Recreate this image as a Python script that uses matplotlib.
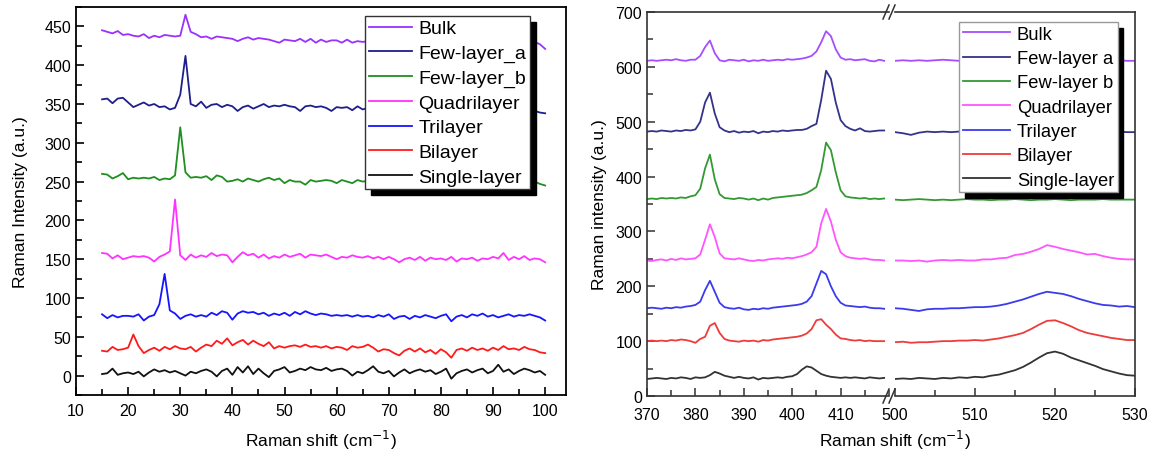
import numpy as np
import matplotlib
matplotlib.use("Agg")
import matplotlib.pyplot as plt
from matplotlib.ticker import MultipleLocator

plt.rcParams['font.family'] = ['Liberation Sans', 'DejaVu Sans']

# ---------------- Left panel data (low-frequency) ----------------
x_left = np.arange(15, 101)  # Raman shift, cm^-1

bulk_l = [445, 443, 441, 444, 439, 440, 438, 437, 440, 435, 438, 436, 439, 438, 437, 438, 465, 443, 440, 436,
          437, 434, 437, 436, 435, 434, 431, 434, 436, 433, 435, 434, 433, 431, 429, 433, 432, 431, 434, 430,
          434, 429, 433, 430, 432, 432, 429, 433, 429, 431, 430, 431, 430, 432, 429, 431, 428, 430, 429, 432,
          428, 430, 431, 428, 430, 429, 431, 427, 430, 429, 428, 430, 429, 428, 430, 429, 428, 430, 429, 431,
          428, 430, 432, 430, 427, 421]
fewa_l = [356, 357, 351, 357, 358, 352, 346, 349, 352, 348, 350, 346, 347, 343, 345, 362, 412, 350, 347, 353,
          345, 349, 350, 346, 349, 347, 341, 346, 348, 344, 347, 350, 346, 348, 347, 349, 347, 346, 341, 347,
          348, 346, 347, 345, 341, 346, 345, 346, 342, 347, 343, 345, 344, 339, 344, 345, 343, 345, 341, 344,
          343, 340, 344, 342, 343, 341, 344, 342, 343, 341, 343, 342, 340, 343, 341, 342, 340, 343, 341, 342,
          340, 341, 342, 341, 339, 338]
fewb_l = [260, 259, 254, 257, 261, 253, 255, 254, 255, 254, 256, 252, 254, 253, 258, 320, 262, 255, 256, 255,
          257, 252, 258, 256, 250, 251, 253, 250, 254, 252, 250, 253, 255, 252, 254, 248, 252, 250, 250, 246,
          252, 250, 251, 252, 251, 248, 252, 250, 248, 252, 250, 251, 247, 250, 249, 250, 248, 251, 247, 250,
          248, 250, 249, 251, 248, 249, 247, 251, 248, 249, 250, 247, 249, 248, 250, 247, 249, 248, 250, 247,
          249, 248, 246, 250, 247, 245]
quad_l = [158, 157, 151, 155, 150, 152, 154, 153, 154, 152, 147, 153, 156, 160, 227, 155, 149, 156, 152, 155,
          153, 158, 154, 156, 155, 146, 153, 159, 155, 157, 152, 156, 151, 154, 152, 156, 153, 155, 157, 152,
          156, 155, 154, 156, 153, 150, 153, 152, 155, 153, 152, 154, 151, 153, 150, 153, 150, 146, 150, 152,
          149, 153, 148, 152, 150, 151, 149, 153, 147, 151, 150, 152, 148, 151, 150, 153, 151, 158, 149, 153,
          150, 154, 149, 151, 150, 146]
tri_l = [79, 74, 78, 75, 77, 77, 76, 79, 71, 76, 78, 92, 131, 84, 80, 73, 77, 79, 76, 78,
         76, 81, 78, 83, 81, 72, 80, 83, 81, 82, 79, 81, 77, 80, 78, 81, 77, 82, 79, 83,
         80, 78, 80, 79, 77, 78, 77, 78, 76, 78, 76, 77, 75, 78, 76, 79, 73, 76, 77, 73,
         77, 75, 78, 76, 74, 77, 79, 70, 76, 78, 75, 79, 77, 80, 76, 78, 75, 77, 79, 76,
         78, 77, 79, 77, 75, 71]
bi_l = [32, 31, 37, 33, 34, 36, 53, 38, 29, 33, 36, 32, 37, 34, 38, 35, 34, 37, 31, 36,
        40, 38, 45, 41, 48, 39, 43, 46, 40, 45, 41, 38, 43, 35, 38, 36, 38, 39, 37, 40,
        37, 38, 36, 38, 35, 37, 36, 33, 38, 36, 37, 40, 36, 31, 34, 33, 29, 26, 32, 35,
        31, 35, 30, 33, 28, 34, 30, 23, 33, 35, 32, 36, 33, 35, 32, 36, 33, 38, 34, 35,
        33, 37, 34, 33, 30, 29]
single_l = [2, 3, 9, 1, 3, 4, 2, 5, -1, 4, 8, 5, 7, 4, 6, 3, 0, 5, 3, 6,
            8, 5, -1, 6, 9, 1, 11, 4, 12, 2, 9, 3, -2, 6, 8, 11, 4, 6, 9, 7,
            11, 8, 7, 10, 6, 8, 9, 6, 0, 5, 3, 7, 12, 5, 3, 6, -1, 4, 8, 3,
            6, 8, 5, 7, 2, 5, 9, -4, 3, 6, 8, 4, 7, 9, 3, 6, 14, 5, 8, 2,
            6, 9, 7, 4, 6, 1]

# ---------------- Right panel data (high-frequency, broken axis) ----------------
x_r1 = np.arange(370, 420)   # 370..419
x_r2 = np.arange(500, 531)   # 500..530

bulk_r1 = [611, 612, 611, 612, 613, 612, 614, 612, 611, 613, 613, 620, 636, 648, 625, 612, 610, 613, 612, 611,
           613, 610, 612, 611, 613, 611, 612, 613, 612, 614, 613, 614, 615, 617, 620, 628, 645, 665, 656, 632,
           617, 613, 614, 612, 613, 614, 611, 610, 613, 611]
fewa_r1 = [482, 483, 482, 484, 483, 482, 484, 483, 485, 484, 486, 500, 535, 553, 515, 490, 484, 481, 483, 480,
           482, 481, 483, 479, 482, 481, 483, 482, 484, 483, 484, 485, 485, 487, 492, 496, 540, 593, 578, 535,
           503, 492, 487, 484, 488, 483, 482, 483, 484, 484]
fewb_r1 = [359, 360, 359, 361, 360, 361, 360, 362, 361, 364, 366, 378, 415, 440, 395, 368, 361, 360, 359, 361,
           360, 358, 360, 357, 360, 358, 361, 362, 363, 364, 365, 366, 367, 370, 375, 381, 412, 462, 448, 408,
           375, 364, 362, 361, 360, 361, 359, 360, 359, 360]
quad_r1 = [247, 246, 248, 249, 247, 250, 248, 251, 249, 250, 251, 258, 285, 313, 290, 260, 251, 250, 249, 251,
           249, 247, 246, 248, 247, 249, 250, 251, 250, 252, 251, 253, 255, 258, 262, 272, 315, 341, 318, 285,
           262, 255, 252, 251, 250, 251, 249, 248, 248, 247]
tri_r1 = [160, 161, 160, 159, 161, 160, 162, 161, 163, 164, 166, 172, 193, 210, 190, 170, 162, 160, 159, 161,
          158, 157, 159, 158, 160, 159, 161, 162, 163, 164, 165, 166, 168, 172, 182, 205, 228, 222, 200, 182,
          170, 165, 164, 163, 162, 163, 161, 160, 160, 159]
bi_r1 = [100, 101, 100, 101, 100, 102, 101, 103, 102, 100, 97, 104, 108, 128, 133, 115, 104, 101, 100, 99,
         101, 100, 101, 99, 102, 101, 103, 104, 105, 106, 107, 108, 110, 114, 122, 138, 140, 130, 122, 112,
         105, 104, 102, 101, 102, 100, 101, 100, 100, 100]
single_r1 = [31, 32, 33, 32, 31, 33, 32, 34, 33, 31, 34, 33, 34, 38, 44, 41, 37, 35, 33, 35,
             33, 32, 34, 30, 33, 32, 33, 34, 33, 35, 36, 40, 48, 54, 52, 46, 40, 37, 35, 34,
             33, 34, 33, 34, 33, 32, 34, 33, 32, 33]

bulk_r2 = [611, 612, 611, 612, 611, 612, 613, 612, 611, 612, 613, 612, 611, 612, 612, 611, 612, 613, 612, 611,
           612, 611, 612, 613, 612, 611, 612, 611, 612, 611, 611]
fewa_r2 = [481, 479, 476, 480, 482, 481, 482, 481, 482, 483, 482, 481, 482, 481, 482, 482, 481, 482, 481, 482,
           482, 481, 482, 482, 481, 482, 481, 482, 482, 481, 481]
fewb_r2 = [358, 357, 358, 359, 358, 357, 358, 357, 358, 359, 358, 358, 357, 358, 358, 359, 358, 357, 358, 358,
           359, 358, 357, 358, 358, 358, 359, 358, 358, 358, 358]
quad_r2 = [247, 247, 246, 247, 245, 247, 248, 247, 248, 247, 247, 249, 249, 251, 252, 257, 259, 263, 268, 275,
           272, 268, 265, 262, 258, 259, 255, 252, 250, 249, 249]
tri_r2 = [160, 159, 157, 155, 158, 159, 159, 160, 160, 161, 162, 162, 163, 165, 168, 172, 176, 181, 186, 190,
          188, 186, 182, 177, 173, 169, 166, 165, 163, 164, 162]
bi_r2 = [98, 99, 97, 98, 98, 99, 100, 100, 101, 101, 102, 101, 103, 105, 108, 111, 115, 122, 130, 137,
         138, 133, 127, 120, 115, 112, 109, 106, 104, 102, 102]
single_r2 = [31, 32, 31, 33, 32, 31, 33, 32, 34, 33, 35, 34, 37, 39, 43, 47, 53, 61, 70, 78,
             81, 77, 70, 65, 60, 55, 49, 45, 41, 38, 37]

labels_left = ["Bulk", "Few-layer_a", "Few-layer_b", "Quadrilayer", "Trilayer", "Bilayer", "Single-layer"]
labels_right = ["Bulk", "Few-layer a", "Few-layer b", "Quadrilayer", "Trilayer", "Bilayer", "Single-layer"]
colors_left = ["#9b30ff", "#1e1e8c", "#1f8f1f", "#ff33ff", "#1515ff", "#ff1a1a", "#111111"]
colors_right = ["#a64dff", "#33338a", "#339933", "#ff55ff", "#3b3bee", "#ee3b3b", "#333333"]

left_series = [bulk_l, fewa_l, fewb_l, quad_l, tri_l, bi_l, single_l]
right1_series = [bulk_r1, fewa_r1, fewb_r1, quad_r1, tri_r1, bi_r1, single_r1]
right2_series = [bulk_r2, fewa_r2, fewb_r2, quad_r2, tri_r2, bi_r2, single_r2]

W, H = 1158, 460
fig = plt.figure(figsize=(W / 100, H / 100), dpi=100)


def fx(px):
    return px / W


def fy(py):
    return 1 - py / H


tick_fs = 11.5
label_fs = 12.5

# ---------------- Left panel ----------------
axL = fig.add_axes([fx(76), fy(396), fx(566 - 76), fy(8) - fy(396)])
for ys, c, lab in zip(left_series, colors_left, labels_left):
    axL.plot(x_left, ys, color=c, lw=1.3, label=lab)
axL.set_xlim(10, 104)
axL.set_ylim(-25, 475)
axL.xaxis.set_minor_locator(MultipleLocator(5))
axL.yaxis.set_major_locator(MultipleLocator(50))
axL.yaxis.set_minor_locator(MultipleLocator(25))
axL.set_xticks(np.arange(10, 101, 10))
axL.tick_params(which='both', direction='in', top=False, right=False, labelsize=tick_fs, width=1.2)
axL.tick_params(which='major', length=6)
axL.tick_params(which='minor', length=4)
axL.tick_params(axis='x', pad=6)
for s in axL.spines.values():
    s.set_linewidth(1.3)
axL.set_xlabel("Raman shift (cm$^{-1}$)", fontsize=label_fs, labelpad=7)
axL.set_ylabel("Raman Intensity (a.u.)", fontsize=label_fs, labelpad=12)
legL = axL.legend(loc='upper left', bbox_to_anchor=(fx(365), fy(17)), bbox_transform=fig.transFigure,
                  fontsize=14, frameon=True, fancybox=False, framealpha=1, edgecolor='#333333',
                  handlelength=2.2, handletextpad=0.35, labelspacing=0.36, borderpad=0.2, borderaxespad=0,
                  shadow={'ox': 4, 'oy': -4, 'facecolor': 'black', 'edgecolor': 'black', 'alpha': 1})
legL.get_frame().set_linewidth(1.0)
legL.set_zorder(10)

# ---------------- Right panel (broken axis) ----------------
bot, top = fy(397), fy(13)
ax1 = fig.add_axes([fx(647), bot, fx(889 - 647), top - bot])
ax2 = fig.add_axes([fx(895), bot, fx(1135 - 895), top - bot])
for ys, c, lab in zip(right1_series, colors_right, labels_right):
    ax1.plot(x_r1, ys, color=c, lw=1.3, label=lab)
for ys, c, lab in zip(right2_series, colors_right, labels_right):
    ax2.plot(x_r2, ys, color=c, lw=1.3, label=lab)
ax1.set_xlim(370, 420)
ax2.set_xlim(500, 530)
for a in (ax1, ax2):
    a.set_ylim(0, 700)
    a.yaxis.set_major_locator(MultipleLocator(100))
    a.yaxis.set_minor_locator(MultipleLocator(50))
    a.xaxis.set_minor_locator(MultipleLocator(5))
    a.tick_params(which='both', direction='in', top=False, right=False, labelsize=tick_fs,
                  width=1.1, color='#333333')
    a.tick_params(which='major', length=6)
    a.tick_params(which='minor', length=4)
    a.tick_params(axis='x', pad=8)
    for s in a.spines.values():
        s.set_linewidth(1.2)
        s.set_color('#333333')
ax1.set_xticks([370, 380, 390, 400, 410])
ax2.set_xticks([500, 510, 520, 530])
ax1.spines['right'].set_visible(False)
ax2.spines['left'].set_visible(False)
ax2.tick_params(axis='y', which='both', left=False, labelleft=False)
ax1.set_ylabel("Raman intensity (a.u.)", fontsize=label_fs, labelpad=6)
fig.text(fx(895), fy(440), "Raman shift (cm$^{-1}$)", fontsize=label_fs, ha='center', va='center')

# break marks "//" at top and bottom of the broken x axis
for ypix in (13, 397):
    for x0 in (883, 889):
        fig.add_artist(plt.Line2D([fx(x0), fx(x0 + 6)], [fy(ypix + 7), fy(ypix - 7)],
                                  color='#333333', lw=1.1, transform=fig.transFigure))

legR = ax2.legend(loc='upper left', bbox_to_anchor=(fx(959), fy(23)), bbox_transform=fig.transFigure,
                  fontsize=13.2, frameon=True, fancybox=False, framealpha=1, edgecolor='#999999',
                  handlelength=2.6, handletextpad=0.35, labelspacing=0.4, borderpad=0.2, borderaxespad=0,
                  shadow={'ox': 4, 'oy': -4, 'facecolor': 'black', 'edgecolor': 'black', 'alpha': 1})
legR.get_frame().set_linewidth(1.0)
legR.set_zorder(10)

fig.savefig("out.png", dpi=100)
